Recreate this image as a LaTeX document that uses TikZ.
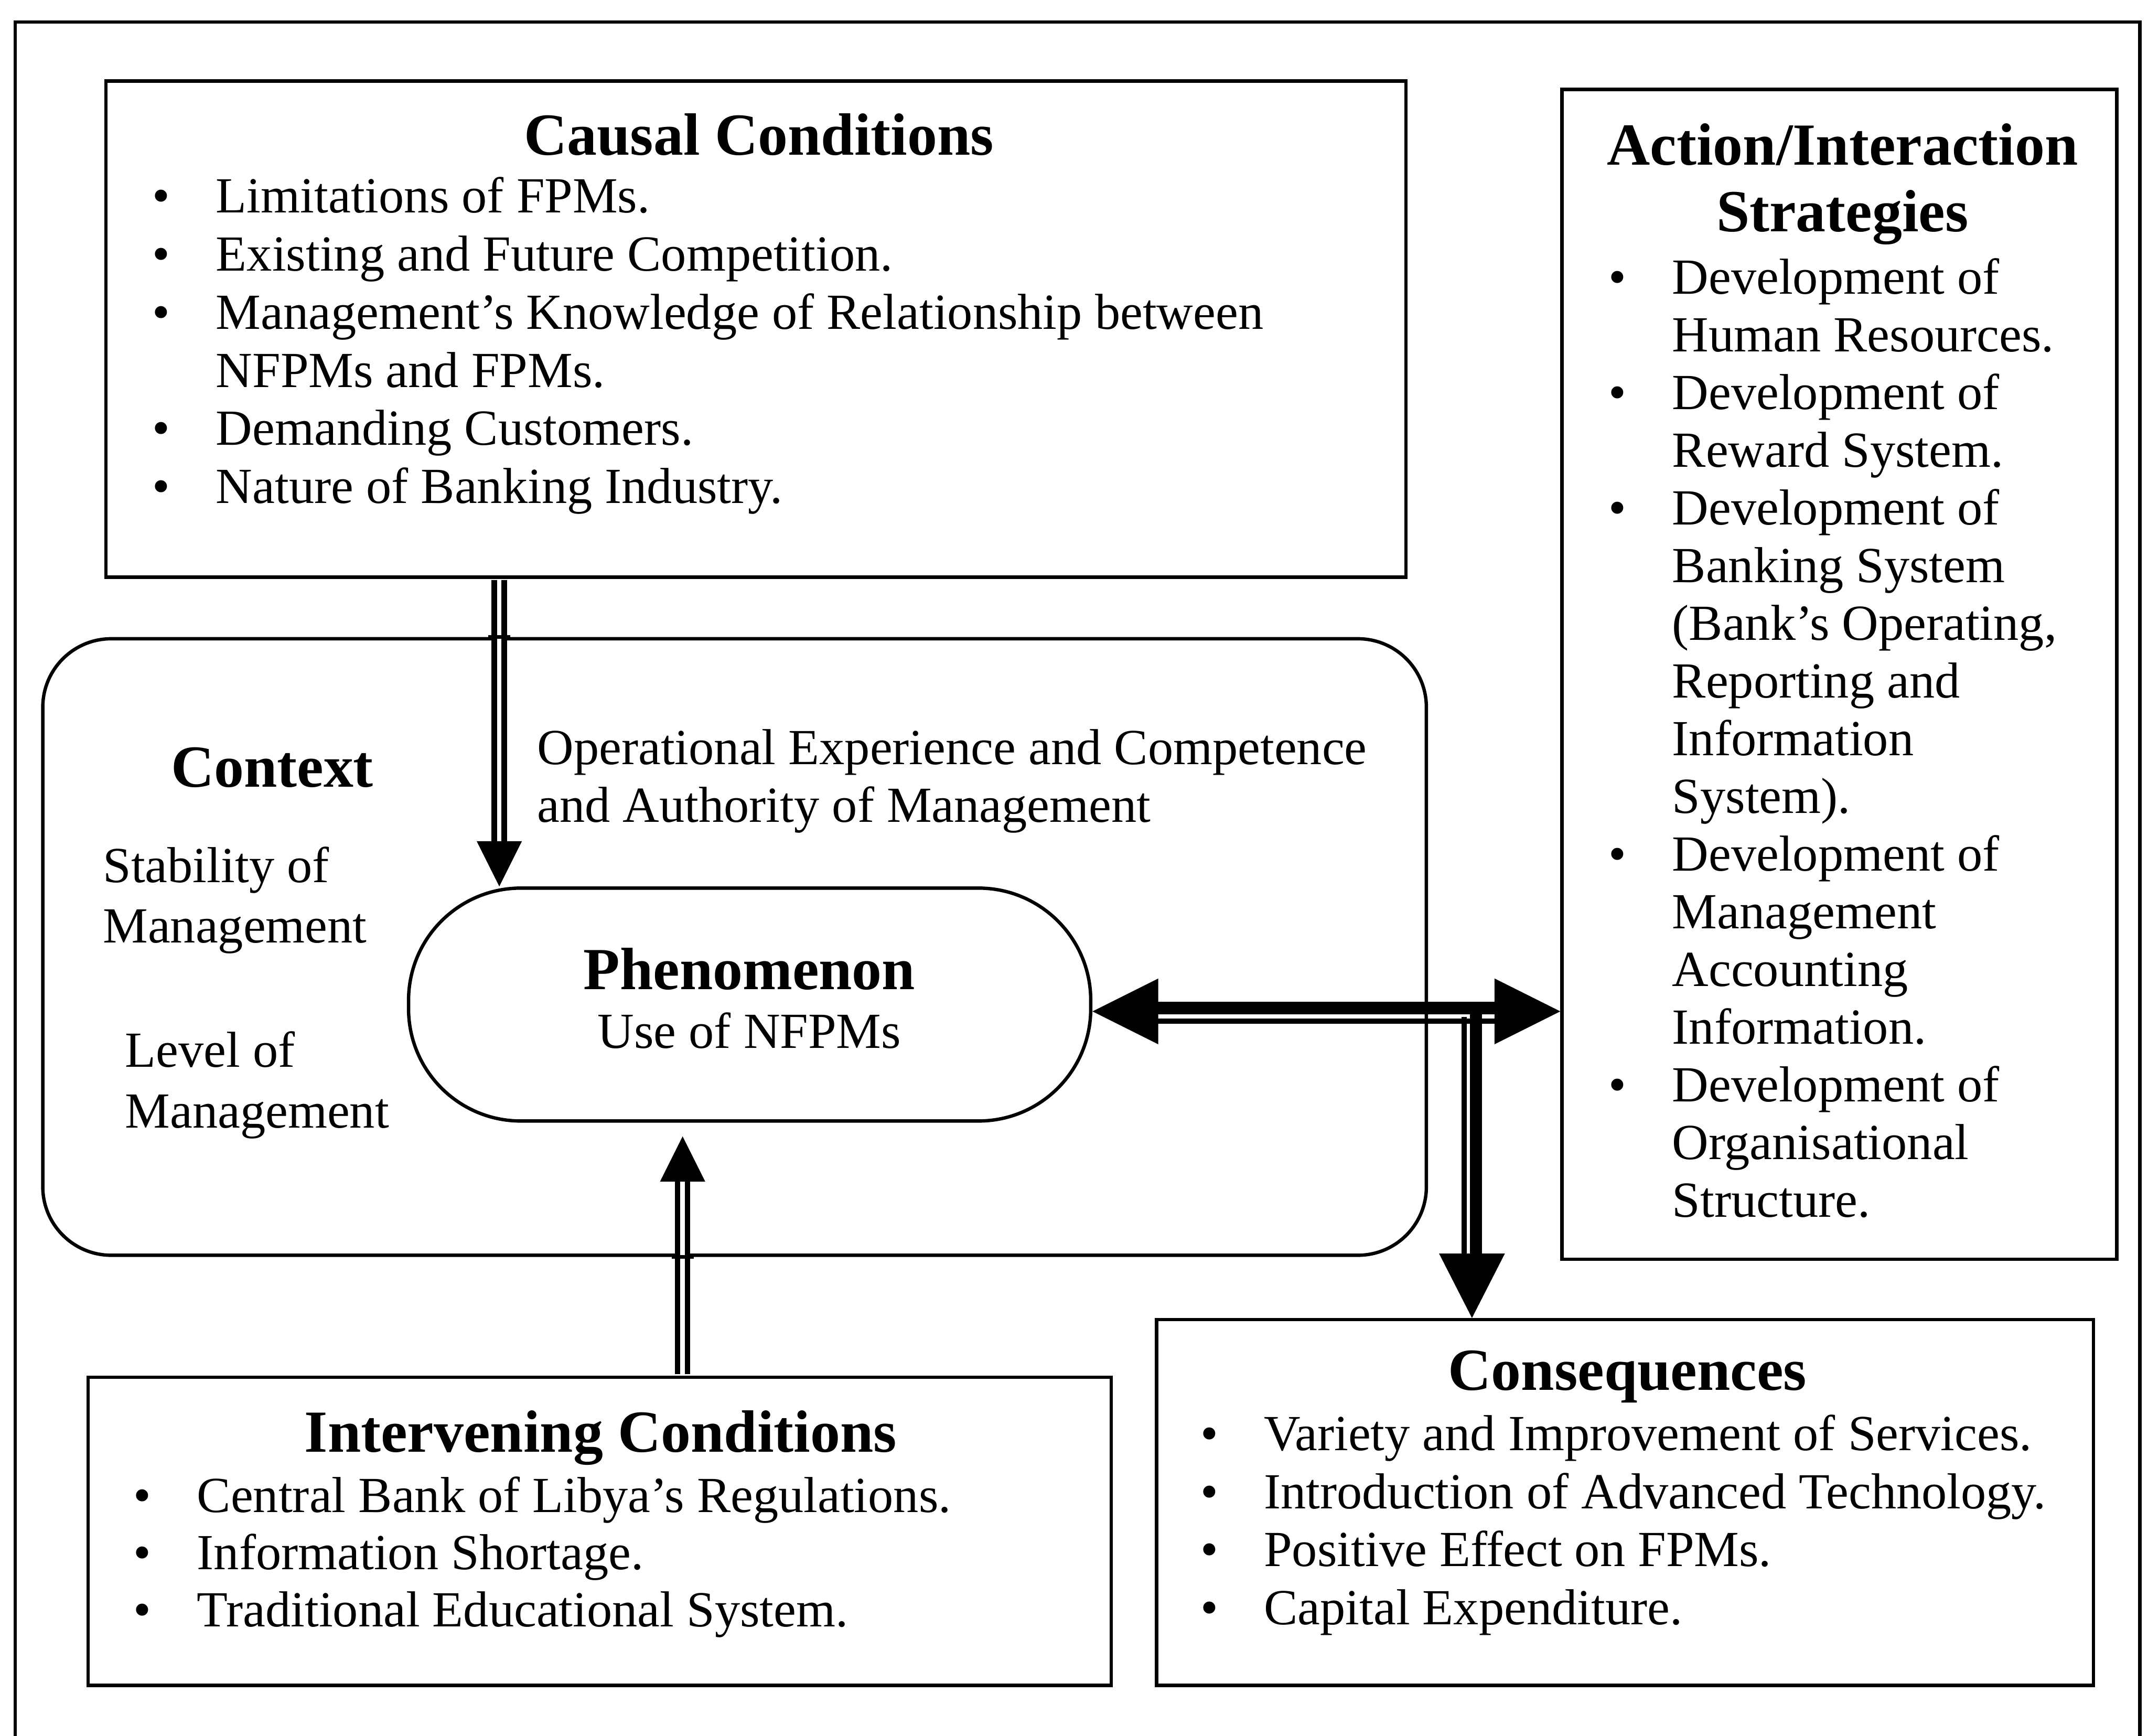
\documentclass[tikz,border=0pt]{standalone}
\usepackage{fontspec}
\setmainfont{Liberation Serif}
\usetikzlibrary{calc}

% bullet column used in the lists
\newcommand\bul{\makebox[4.64mm][l]{\textbullet}}
\newcommand\nob{\hspace*{4.64mm}}

\tikzset{
  boxline/.style={draw, line width=0.7pt, inner sep=0pt, anchor=north west},
  ttl/.style={inner sep=0pt, anchor=base, font=\fontsize{12.4pt}{14pt}\selectfont\bfseries},
  body/.style={inner sep=0pt, anchor=base west, font=\fontsize{10.5pt}{#1}\selectfont},
  body/.default=12pt,
  bodyc/.style={inner sep=0pt, anchor=base, font=\fontsize{10.5pt}{12pt}\selectfont},
  twin/.style={line width=0.4mm, double, double distance=0.33mm},
  heavy/.style={line width=0.9mm},
  light/.style={line width=0.37mm},
}

\begin{document}
\begin{tikzpicture}[x=0.1mm, y=-0.1mm]
\useasboundingbox (0,0) rectangle (1568,1267);

% ---------- boxes ----------
\node[boxline, minimum width=94.9mm, minimum height=36.2mm] (causal) at (76,58) {};
\node[boxline, minimum width=40.5mm, minimum height=85.4mm] (act) at (1139,64) {};
\node[boxline, rounded corners=5mm, minimum width=101mm, minimum height=45mm] (ctx) at (30,465) {};
\node[boxline, rounded corners=8.2mm, minimum width=49.8mm, minimum height=17mm] (phen) at (297,647) {};
\node[boxline, minimum width=74.7mm, minimum height=22.5mm] (interv) at (63,1004) {};
\node[boxline, minimum width=68.4mm, minimum height=26.7mm] (cons) at (843,962) {};

% outer frame, open at the foot of the page
\draw[line width=0.7pt] (11,1267) -- (11,16) -- (1562,16) -- (1562,1267);

% x positions of the vertical connectors
\path (364.5,0) coordinate (cx) (498.3,0) coordinate (ix) (1074.5,0) coordinate (dx);

% causal conditions -> phenomenon
\coordinate (ctip) at (cx |- phen.north);
\draw[twin] ($(cx |- causal.south)+(0,1)$) -- ($(ctip)+(0,-33)$);
\fill ($(ctip)+(-16.5,-33)$) -- (ctip) -- ($(ctip)+(16.5,-33)$) -- cycle;
\draw[line width=0.7pt] ($(cx |- ctx.north)+(-8,0)$) -- ($(cx |- ctx.north)+(8,0)$);

% intervening conditions -> phenomenon
\coordinate (itip) at ($(ix |- phen.south)+(0,10)$);
\draw[twin] ($(ix |- interv.north)+(0,-1)$) -- ($(itip)+(0,33)$);
\fill ($(itip)+(-16.5,33)$) -- (itip) -- ($(itip)+(16.5,33)$) -- cycle;
\draw[line width=0.7pt] ($(ix |- ctx.south)+(-8,0)$) -- ($(ix |- ctx.south)+(8,0)$);

% phenomenon <-> action/interaction strategies
\coordinate (ltip) at ($(phen.east)+(0,5)$);
\coordinate (rtip) at (act.west |- ltip);
\draw[heavy] ($(ltip)+(47,-2.5)$) -- ($(rtip)+(-47,-2.5)$);
\draw[light] ($(ltip)+(47,7)$) -- ($(rtip)+(-47,7)$);
\fill (ltip) -- ++(48,-24) -- ++(0,48) -- cycle;
\fill (rtip) -- ++(-48,-24) -- ++(0,48) -- cycle;

% branch down to consequences
\coordinate (dtip) at (dx |- cons.north);
\draw[light] ($(dx |- ltip)+(-5.8,4)$) -- ($(dtip)+(-5.8,-46)$);
\draw[heavy] ($(dx |- ltip)+(3,-7)$) -- ($(dtip)+(3,-46)$);
\fill (dtip) -- ++(-24,-47) -- ++(48,0) -- cycle;

% ---------- texts ----------
\node[ttl] (cctitle) at (554,113) {Causal Conditions};
\node[body=12.06pt] (cclist) at (110.6,155.4) {\begin{tabular}[t]{@{}l@{}}
\bul Limitations of FPMs.\\
\bul Existing and Future Competition.\\
\bul Management’s Knowledge of Relationship between\\
\nob NFPMs and FPMs.\\
\bul Demanding Customers.\\
\bul Nature of Banking Industry.
\end{tabular}};

\node[ttl] (acttitle1) at (1345,120.5) {Action/Interaction};
\node[ttl] (acttitle2) at (1345,169) {Strategies};
\node[body=11.98pt] (actlist) at (1173.6,214.7) {\begin{tabular}[t]{@{}l@{}}
\bul Development of\\
\nob Human Resources.\\
\bul Development of\\
\nob Reward System.\\
\bul Development of\\
\nob Banking System\\
\nob (Bank’s Operating,\\
\nob Reporting and\\
\nob Information\\
\nob System).\\
\bul Development of\\
\nob Management\\
\nob Accounting\\
\nob Information.\\
\bul Development of\\
\nob Organisational\\
\nob Structure.
\end{tabular}};

\node[ttl] (ctxtitle) at (198.7,574.6) {Context};
\node[body=12.5pt] (ctxa) at (74.5,644) {\begin{tabular}[t]{@{}l@{}}Stability of\\Management\end{tabular}};
\node[body=12.6pt] (ctxb) at (90.6,779) {\begin{tabular}[t]{@{}l@{}}Level of\\Management\end{tabular}};
\node[body=12pt] (ctxc) at (391.5,558) {\begin{tabular}[t]{@{}l@{}}Operational Experience and Competence\\and Authority of Management\end{tabular}};

\node[ttl] (phentitle) at (547,722.3) {Phenomenon};
\node[bodyc] (phentext) at (547,765.2) {Use of NFPMs};

\node[ttl] (ivtitle) at (438.5,1060) {Intervening Conditions};
\node[body=11.86pt] (ivlist) at (96.8,1103.8) {\begin{tabular}[t]{@{}l@{}}
\bul Central Bank of Libya’s Regulations.\\
\bul Information Shortage.\\
\bul Traditional Educational System.
\end{tabular}};

\node[ttl] (constitle) at (1188,1014.6) {Consequences};
\node[body=12.03pt] (conslist) at (875.6,1058.8) {\begin{tabular}[t]{@{}l@{}}
\bul Variety and Improvement of Services.\\
\bul Introduction of Advanced Technology.\\
\bul Positive Effect on FPMs.\\
\bul Capital Expenditure.
\end{tabular}};

\end{tikzpicture}
\end{document}
